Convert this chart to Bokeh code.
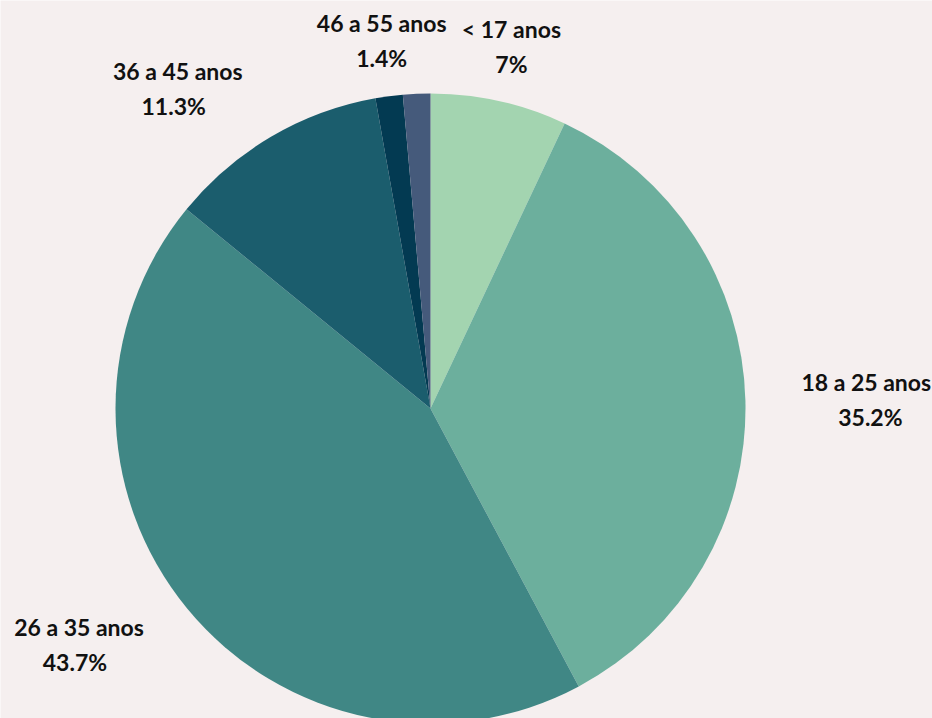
import numpy as np
from bokeh.plotting import figure
from bokeh.models import Range1d, ColumnDataSource
from bokeh.core.properties import value
from bokeh.embed import file_html
from bokeh.resources import INLINE

# ---- data ----
categories = ["< 17 anos", "18 a 25 anos", "26 a 35 anos", "36 a 45 anos", "46 a 55 anos", "> 55 anos"]
percentages = [7.0, 35.2, 43.7, 11.3, 1.4, 1.4]
pct_labels = ["7%", "35.2%", "43.7%", "11.3%", "1.4%", "1.4%"]
show_label = [True, True, True, True, True, False]
colors = ["#a3d4b0", "#6caf9d", "#408785", "#1b5d6d", "#033a52", "#455a7b"]

BG = "#f5efef"
W, H = 932, 718
cx, cy = 430, 310  # pie centre in data units (1 unit = 1 px)
R = 315
R_LABEL = 371

p = figure(width=W, height=H, output_backend="svg", toolbar_location=None,
           x_range=Range1d(0, W), y_range=Range1d(0, H),
           min_border=0, outline_line_color=None,
           background_fill_color=BG, border_fill_color=BG)
p.axis.visible = False
p.grid.visible = False

vals = np.array(percentages, dtype=float)
frac = vals / vals.sum()
cum = np.concatenate([[0.0], np.cumsum(frac)])
start = np.pi / 2 - 2 * np.pi * cum[:-1]
end = np.pi / 2 - 2 * np.pi * cum[1:]

src = ColumnDataSource(dict(start=start, end=end, color=colors, cat=categories))
p.wedge(x=cx, y=cy, radius=R, start_angle="start", end_angle="end",
        direction="clock", fill_color="color", line_color=None, source=src)

# labels
mid = 2 * np.pi * (cum[:-1] + cum[1:]) / 2  # clockwise from top
FS = 23
name_x, name_y, name_t, name_al = [], [], [], []
pct_x, pct_y, pct_t = [], [], []
for i, cat in enumerate(categories):
    if not show_label[i]:
        continue
    s, c = np.sin(mid[i]), np.cos(mid[i])
    lx = cx + R_LABEL * s
    ly = cy + R_LABEL * c
    est_w = 0.5 * FS * len(cat)
    if abs(s) < 0.3:
        al, pcx = "center", lx
    elif s > 0:
        al, pcx = "left", lx + est_w / 2
    else:
        al, pcx = "right", lx - est_w / 2
    name_x.append(lx); name_y.append(ly + 17.5); name_t.append(cat); name_al.append(al)
    pct_x.append(pcx); pct_y.append(ly - 17.5); pct_t.append(pct_labels[i])

for al in ["left", "center", "right"]:
    idx = [k for k, a in enumerate(name_al) if a == al]
    if not idx:
        continue
    p.text(x=[name_x[k] for k in idx], y=[name_y[k] for k in idx],
           text=[name_t[k] for k in idx], text_align=al, text_baseline="middle",
           text_font=value("Lato"), text_font_style="bold",
           text_font_size=f"{FS}px", text_color="#111111")
p.text(x=pct_x, y=pct_y, text=pct_t, text_align="center", text_baseline="middle",
       text_font=value("Lato"), text_font_style="bold",
       text_font_size=f"{FS}px", text_color="#111111")

html = file_html(p, INLINE)
html = html.replace("<body>", f'<body style="background:{BG};">', 1)
open("out.html", "w").write(html)
